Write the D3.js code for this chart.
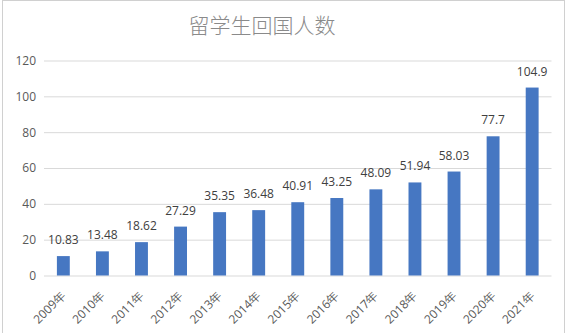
<!DOCTYPE html>
<html><head><meta charset="utf-8">
<script src="https://cdn.jsdelivr.net/npm/d3@7"></script>
<style>body{margin:0;background:#fff}svg{display:block}</style>
</head><body>
<script>
const title = "留学生回国人数";
const categories = ["2009年","2010年","2011年","2012年","2013年","2014年","2015年","2016年","2017年","2018年","2019年","2020年","2021年"];
const values = [10.83,13.48,18.62,27.29,35.35,36.48,40.91,43.25,48.09,51.94,58.03,77.7,104.9];
const labels = ["10.83","13.48","18.62","27.29","35.35","36.48","40.91","43.25","48.09","51.94","58.03","77.7","104.9"];
const yTicks = [0,20,40,60,80,100,120];

const W=569,H=333;
const svg=d3.select("body").append("svg").attr("width",W).attr("height",H);
svg.append("rect").attr("x",2.5).attr("y",0.5).attr("width",562).attr("height",H).attr("fill","#fff").attr("stroke","#d0d0d0");

const x=d3.scaleBand().domain(categories).range([44,551.5]).paddingInner(0.67).paddingOuter(0.33);
const y=d3.scaleLinear().domain([0,120]).range([275.5,60.5]);

svg.append("text").attr("x",262).attr("y",33).attr("text-anchor","middle")
  .attr("font-family","'Noto Sans CJK SC'").attr("font-weight",300).attr("font-size",21).attr("fill","#8a8a8a").text(title);

const gy=svg.append("g").attr("transform","translate(44,0)").call(d3.axisLeft(y).tickValues(yTicks).tickSize(-507.5).tickPadding(8));
gy.select(".domain").remove();
gy.selectAll(".tick line").attr("stroke","#d9d9d9");
gy.selectAll(".tick text").attr("font-family","'Open Sans', Calibri, sans-serif").attr("font-size",12).attr("fill","#595959");

svg.selectAll("rect.bar").data(values).join("rect").attr("class","bar")
  .attr("x",(d,i)=>x(categories[i])).attr("width",x.bandwidth())
  .attr("y",d=>y(d)).attr("height",d=>y(0)-y(d)).attr("fill","#4677c2");

svg.selectAll("text.lbl").data(values).join("text").attr("class","lbl")
  .attr("x",(d,i)=>x(categories[i])+x.bandwidth()/2).attr("y",d=>y(d)-12)
  .attr("text-anchor","middle").attr("font-family","'Open Sans', Calibri, sans-serif").attr("font-size",12).attr("fill","#404040")
  .text((d,i)=>labels[i]);

const gx=svg.append("g").attr("transform","translate(0,275.5)").call(d3.axisBottom(x).tickSize(0).tickPadding(0));
gx.select(".domain").remove();
gx.selectAll(".tick text").attr("font-family","'Open Sans', Calibri, sans-serif").attr("font-size",12).attr("fill","#595959")
  .attr("text-anchor","end").attr("dy",0).attr("transform","translate(3,21) rotate(-45)");
</script>
</body></html>
